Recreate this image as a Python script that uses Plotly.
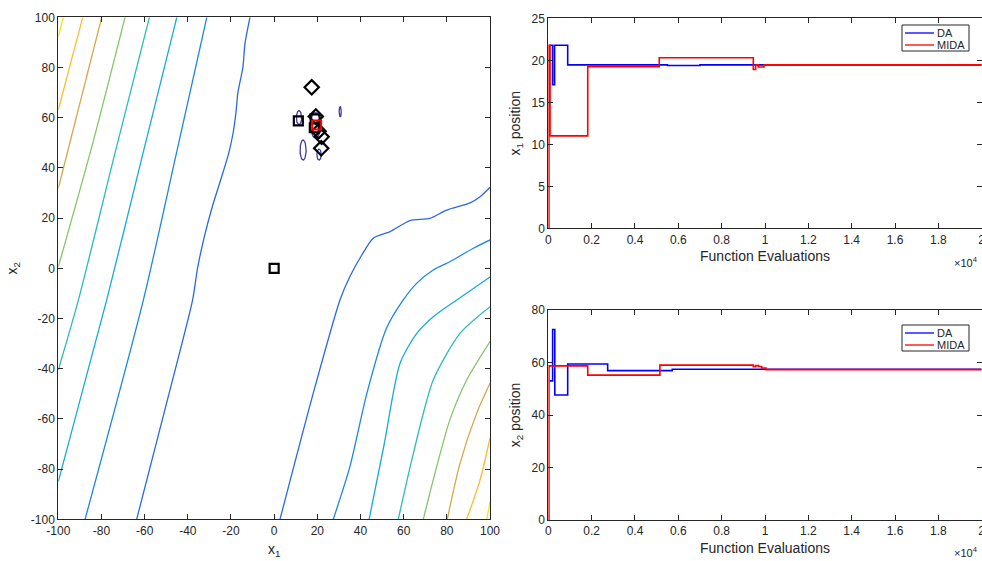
import numpy as np
import plotly.graph_objects as go

# ---------------- data: contour landscape (digitised contour lines) ----------------
# left-hand family of contour lines (levels 1..8, inner -> outer)
left_l1_x1 = [-11.2, -13.5, -14.5, -16.8, -17.7, -19.0, -21.0, -24.5, -28.5, -32.5, -35.5, -37.8, -49.5, -63.7]
left_l1_x2 = [100, 89.6, 80.0, 70.0, 62.0, 54.0, 46.0, 36.0, 25.0, 12.0, 0.0, -12.7, -52.6, -100]
left_l2_x1 = [-31.2, -45.5, -60.6, -87.6]
left_l2_x2 = [100, 45, -12.7, -100]
left_l3_x1 = [-45.1, -61.0, -77.6, -100]
left_l3_x2 = [100, 45, -12.7, -85]
left_l4_x1 = [-57.8, -74.0, -90.7, -100]
left_l4_x2 = [100, 45, -12.7, -40.5]
left_l5_x1 = [-69.1, -84.0, -100]
left_l5_x2 = [100, 50, 0.6]
left_l6_x1 = [-79.9, -100]
left_l6_x2 = [100, 31.9]
left_l7_x1 = [-88.7, -100]
left_l7_x2 = [100, 63.1]
left_l8_x1 = [-97.7, -100]
left_l8_x2 = [100, 92.3]

# right-hand family of contour lines (levels 1..8)
right_l1_x1 = [2.7, 18.1, 30.5, 35.1, 40.6, 45.9, 53.7, 62.9, 72.2, 79.9, 90.8, 95.4, 100]
right_l1_x2 = [-100, -49.8, -12.6, -3.3, 5.3, 12.0, 14.6, 19.0, 19.9, 23.2, 26.1, 28.5, 32.3]
right_l2_x1 = [27.4, 35.1, 42.9, 52.0, 59.8, 66.0, 73.7, 81.4, 92.3, 100]
right_l2_x2 = [-100, -79.0, -50.0, -24.0, -12.6, -6.0, -0.7, 2.6, 8.0, 11.3]
right_l3_x1 = [44.0, 51.0, 58.3, 66.0, 73.7, 84.6, 100]
right_l3_x2 = [-100, -70.0, -37.9, -26.0, -19.3, -12.6, -3.5]
right_l4_x1 = [57.5, 64.5, 73.7, 86.1, 100]
right_l4_x2 = [-100, -73.7, -44.5, -25.9, -15.3]
right_l5_x1 = [69.1, 73.7, 81.4, 89.2, 100]
right_l5_x2 = [-100, -84.3, -60.4, -44.5, -29.2]
right_l6_x1 = [80.2, 86.1, 93.8, 100]
right_l6_x2 = [-100, -77.7, -57.8, -45.8]
right_l7_x1 = [89.2, 95.4, 100]
right_l7_x2 = [-100, -84.3, -67.7]
right_l8_x1 = [98.5, 100]
right_l8_x2 = [-100, -93]

level_colors = ["#2a68e6", "#1f86de", "#19aad6", "#2cbcb4", "#86c46a",
                "#d4a84a", "#f8bc30", "#f0e41a"]

# small lowest-level contours around the optimum (centre / half-axes)
ell_cx = [11.5, 30.6, 13.4, 20.8, 19.2]
ell_cy = [60.0, 62.4, 47.1, 45.3, 57.0]
ell_rx = [1.2, 0.5, 1.4, 1.0, 2.4]
ell_ry = [2.8, 2.0, 4.0, 2.2, 5.0]

# search agents / best positions
sq_x1 = [0.0, 11.2, 19.0, 18.6]
sq_x2 = [0.0, 58.7, 59.5, 56.0]
dia_x1 = [17.4, 19.3, 20.6, 22.0, 21.8]
dia_x2 = [72.1, 60.5, 54.6, 52.4, 47.8]
best_x1 = [19.7]
best_x2 = [57.1]

axis_ticks = [-100, -80, -60, -40, -20, 0, 20, 40, 60, 80, 100]
axis_ticktext = ["-100", "-80", "-60", "-40", "-20", "0", "20", "40", "60", "80", "100"]

# ---------------- data: convergence histories ----------------
da_x1_evals = [60, 200, 290, 895, 5500, 7000, 20000]
da_x1_vals = [21.8, 17.1, 21.8, 19.45, 19.38, 19.45, 19.45]
mida_x1_evals = [0, 30, 80, 1820, 5120, 9460, 9570, 9690, 9950, 20000]
mida_x1_vals = [0, 21.8, 11.0, 19.25, 20.3, 18.9, 19.45, 19.2, 19.45, 19.45]

da_x2_evals = [60, 200, 300, 895, 2740, 5720, 20000]
da_x2_vals = [53.0, 72.6, 47.6, 59.4, 56.9, 57.4, 57.4]
mida_x2_evals = [0, 30, 1820, 5150, 9460, 9560, 9700, 9850, 10050, 20000]
mida_x2_vals = [0, 58.7, 55.2, 59.0, 58.4, 58.8, 58.5, 57.9, 57.3, 57.3]

eval_ticks = [0, 2000, 4000, 6000, 8000, 10000, 12000, 14000, 16000, 18000, 20000]
eval_ticktext = ["0", "0.2", "0.4", "0.6", "0.8", "1", "1.2", "1.4", "1.6", "1.8", "2"]

series_names = ["DA", "MIDA"]
series_colors = ["#0000ff", "#ff0000"]

# ---------------- figure ----------------
W, H = 982, 561
AX = "#262626"
FONT = "Liberation Sans, Arial, sans-serif"

fig = go.Figure()

left_lines = [(left_l1_x1, left_l1_x2), (left_l2_x1, left_l2_x2), (left_l3_x1, left_l3_x2),
              (left_l4_x1, left_l4_x2), (left_l5_x1, left_l5_x2), (left_l6_x1, left_l6_x2),
              (left_l7_x1, left_l7_x2), (left_l8_x1, left_l8_x2)]
right_lines = [(right_l1_x1, right_l1_x2), (right_l2_x1, right_l2_x2), (right_l3_x1, right_l3_x2),
               (right_l4_x1, right_l4_x2), (right_l5_x1, right_l5_x2), (right_l6_x1, right_l6_x2),
               (right_l7_x1, right_l7_x2), (right_l8_x1, right_l8_x2)]
for fam in (left_lines, right_lines):
    for k, (xs, ys) in enumerate(fam):
        fig.add_trace(go.Scatter(x=xs, y=ys, mode="lines", xaxis="x", yaxis="y",
                                 line=dict(color=level_colors[k], width=1.3, shape="spline", smoothing=0.7),
                                 showlegend=False, hoverinfo="skip"))

t = np.linspace(0, 2 * np.pi, 60)
for cx, cy, rx, ry in zip(ell_cx, ell_cy, ell_rx, ell_ry):
    fig.add_trace(go.Scatter(x=cx + rx * np.cos(t), y=cy + ry * np.sin(t), mode="lines",
                             xaxis="x", yaxis="y", line=dict(color="#3e3aa8", width=1.3),
                             showlegend=False, hoverinfo="skip"))

fig.add_trace(go.Scatter(x=sq_x1, y=sq_x2, mode="markers", xaxis="x", yaxis="y", showlegend=False,
                         marker=dict(symbol="square-open", size=9, color="black", line=dict(width=2.2, color="black"))))
fig.add_trace(go.Scatter(x=dia_x1, y=dia_x2, mode="markers", xaxis="x", yaxis="y", showlegend=False,
                         marker=dict(symbol="diamond-open", size=11, color="black", line=dict(width=2.2, color="black"))))
fig.add_trace(go.Scatter(x=best_x1, y=best_x2, mode="markers", xaxis="x", yaxis="y", showlegend=False,
                         marker=dict(symbol="square-open", size=9, color="red", line=dict(width=2, color="red"))))

# convergence plots
fig.add_trace(go.Scatter(x=da_x1_evals, y=da_x1_vals, mode="lines", name=series_names[0], xaxis="x2", yaxis="y2",
                         line=dict(color=series_colors[0], width=1.6, shape="hv"), showlegend=False))
fig.add_trace(go.Scatter(x=mida_x1_evals, y=mida_x1_vals, mode="lines", name=series_names[1], xaxis="x2", yaxis="y2",
                         line=dict(color=series_colors[1], width=1.6, shape="hv"), showlegend=False))
fig.add_trace(go.Scatter(x=da_x2_evals, y=da_x2_vals, mode="lines", name=series_names[0], xaxis="x3", yaxis="y3",
                         line=dict(color=series_colors[0], width=1.6, shape="hv"), showlegend=False))
fig.add_trace(go.Scatter(x=mida_x2_evals, y=mida_x2_vals, mode="lines", name=series_names[1], xaxis="x3", yaxis="y3",
                         line=dict(color=series_colors[1], width=1.6, shape="hv"), showlegend=False))


def px_x(p):
    return p / W


def px_y(p):
    return 1 - p / H


tickfont = dict(family=FONT, size=12, color=AX)
titlefont = dict(family=FONT, size=14, color=AX)
common = dict(showline=True, linecolor=AX, linewidth=1, mirror="ticks", ticks="inside", ticklen=5,
              tickcolor=AX, showgrid=False, zeroline=False, tickfont=tickfont, automargin=False)

# MATLAB-style boxed legends (drawn in pixel layout)
shapes = []
annotations = []
for box_top in (25, 325):
    shapes.append(dict(type="rect", xref="paper", yref="paper",
                       x0=px_x(902), x1=px_x(969), y0=px_y(box_top + 26), y1=px_y(box_top),
                       line=dict(color=AX, width=1), fillcolor="white", layer="above"))
    for i, (nm, col) in enumerate(zip(series_names, series_colors)):
        yy = box_top + 8 + i * 12
        shapes.append(dict(type="line", xref="paper", yref="paper",
                           x0=px_x(905), x1=px_x(934), y0=px_y(yy), y1=px_y(yy),
                           line=dict(color=col, width=1.3), layer="above"))
        annotations.append(dict(text=nm, x=px_x(935), y=px_y(yy), xref="paper", yref="paper",
                                xanchor="left", yanchor="middle", showarrow=False,
                                font=dict(family=FONT, size=11, color=AX)))

annotations += [
    dict(text="\u00d710<sup>4</sup>", x=px_x(966), y=px_y(271), xref="paper", yref="paper",
         xanchor="center", yanchor="bottom", showarrow=False, font=dict(family=FONT, size=11, color=AX)),
    dict(text="\u00d710<sup>4</sup>", x=px_x(966), y=px_y(561), xref="paper", yref="paper",
         xanchor="center", yanchor="bottom", showarrow=False, font=dict(family=FONT, size=11, color=AX)),
]

fig.update_layout(
    width=W, height=H, margin=dict(l=0, r=0, t=0, b=0),
    paper_bgcolor="white", plot_bgcolor="white",
    xaxis=dict(domain=[px_x(58.3), px_x(490)], range=[-100, 100], tickvals=axis_ticks,
               ticktext=axis_ticktext, anchor="y",
               title=dict(text="x<sub>1</sub>", font=titlefont, standoff=7), **common),
    yaxis=dict(domain=[px_y(519.3), px_y(17.3)], range=[-100, 100], tickvals=axis_ticks,
               ticktext=axis_ticktext, anchor="x",
               title=dict(text="x<sub>2</sub>", font=titlefont, standoff=9), **common),
    xaxis2=dict(domain=[px_x(548.3), px_x(981.7)], range=[0, 20000], tickvals=eval_ticks,
                ticktext=eval_ticktext, anchor="y2", ticklabeloverflow="allow",
                title=dict(text="Function Evaluations", font=titlefont, standoff=5), **common),
    yaxis2=dict(domain=[px_y(228.3), px_y(18.3)], range=[0, 25], dtick=5, anchor="x2",
                title=dict(text="x<sub>1</sub> position", font=titlefont, standoff=7), **common),
    xaxis3=dict(domain=[px_x(548.3), px_x(981.7)], range=[0, 20000], tickvals=eval_ticks,
                ticktext=eval_ticktext, anchor="y3", ticklabeloverflow="allow",
                title=dict(text="Function Evaluations", font=titlefont, standoff=5), **common),
    yaxis3=dict(domain=[px_y(520), px_y(310)], range=[0, 80], dtick=20, anchor="x3",
                title=dict(text="x<sub>2</sub> position", font=titlefont, standoff=7), **common),
    shapes=shapes,
    annotations=annotations,
)

fig.write_html("out.html")
